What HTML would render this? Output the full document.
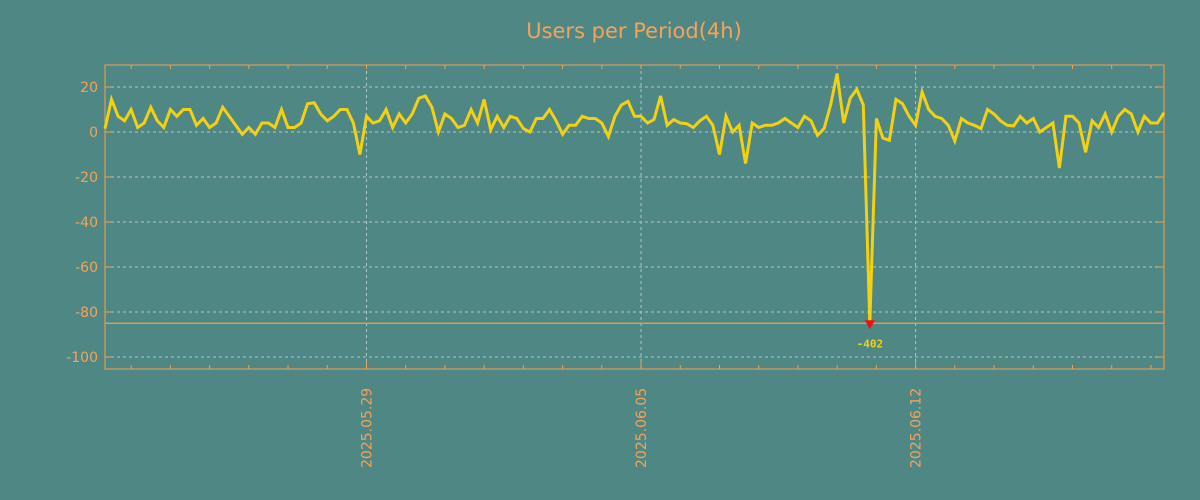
<!DOCTYPE html>
<html><head><meta charset="utf-8"><style>
html,body{margin:0;padding:0;background:#4f8785;}
svg{display:block;font-family:"DejaVu Sans","Liberation Sans",sans-serif;}
</style></head><body>
<svg id="chart" width="1200" height="500">
<rect width="1200" height="500" fill="#4f8785"/>
<text x="634" y="38" text-anchor="middle" fill="#f4a35a" font-size="21">Users per Period(4h)</text>
<g id="grid"></g><g id="axes"></g><g id="series"></g>
</svg>
<script>
const yTicks=[20,0,-20,-40,-60,-80,-100];
const dateLabels=["2025.05.29","2025.06.05","2025.06.12"];
const dateIndex=[40,82,124];
const users=[1.5,14.5,7,5,10,2,4,11,5,2,10,7,10,10,3,6,2,4,11,7,3,-1,2,-1,4,4,2,10,2,2,4,12.6,13,8,5,7,10,10,4,-10,7,4,5,10,2,8,4,8,15,16,11,0,8,6,2,
3,10,4,14.5,1,7,2,7,6,1.5,0,6,6,10,5,-1,3,3,7,6,6,4,-2,7,12,13.6,7,7,4,5.6,16,3,5.5,4,3.7,2,5,7,3,-10,7,0,3,-14,4,2,3,3,4,6,4,2,7,
5,-1.5,1.5,12,26,4,15,19,12,-402,6,-2.7,-3.7,14.5,12.6,7,3,17.8,10,7,6,3,-4,6,4,3,1.5,10,8,5,3,2.7,7,4,6,0,2,4,-16,7,7,4,-9,5,2,8,0,7,10,8,0,7,4,4,8.6];
const limitValue=-85;
const ns="http://www.w3.org/2000/svg";
const L=105,R=1164,T=65,B=369;
const step=(R-L)/(users.length-1);
const xs=i=>L+i*step;
const ys=v=>132-v*2.25;
function mk(tag,attrs,parent){const e=document.createElementNS(ns,tag);for(const k in attrs)e.setAttribute(k,attrs[k]);parent.appendChild(e);return e;}
const grid=document.getElementById('grid'),axes=document.getElementById('axes'),series=document.getElementById('series');
yTicks.forEach(v=>{
 const g=mk('line',{x1:L,x2:R,y1:ys(v),y2:ys(v),stroke:'#b9c4c0','stroke-dasharray':'3,3','stroke-width':1},grid);
 
 
 const t=mk('line',{x1:L,x2:L+6,y1:ys(v),y2:ys(v),stroke:'#f4a04a'},axes);
 
 
 const t2=mk('line',{x1:R-6,x2:R,y1:ys(v),y2:ys(v),stroke:'#f4a04a'},axes);
 
 
 const lb=mk('text',{x:98,y:ys(v)+5,'text-anchor':'end',fill:'#f4a35a','font-size':14},axes);
 lb.textContent=String(v);
 
 
});
for(let i=4;i<users.length;i+=6){
 const a=mk('line',{x1:xs(i),x2:xs(i),y1:T,y2:T+4,stroke:'#f4a04a'},axes);
 
 
 const b=mk('line',{x1:xs(i),x2:xs(i),y1:B-4,y2:B,stroke:'#f4a04a'},axes);
 
 
}
dateLabels.forEach((d,k)=>{
 const x=xs(dateIndex[k]);
 const g=mk('line',{x1:x,x2:x,y1:T,y2:B,stroke:'#b9c4c0','stroke-dasharray':'3,3'},grid);
 
 
 const tk=mk('line',{x1:x,x2:x,y1:B-8,y2:B,stroke:'#f4a04a'},axes);
 
 
 const t=mk('text',{x:0,y:0,transform:`translate(${x+5},468) rotate(-90)`,fill:'#f4a35a','font-size':14},axes);
 t.textContent=d;
 
 
});
const frame=mk('rect',{x:L,y:T,width:R-L,height:B-T,fill:'none',stroke:'#f4a04a','stroke-width':1},axes);


const lim=mk('line',{x1:L,x2:R,y1:ys(limitValue),y2:ys(limitValue),stroke:'#f4a04a','stroke-width':1.2},axes);


const pts=users.map((v,i)=>xs(i).toFixed(1)+','+ys(Math.max(v,limitValue)).toFixed(1)).join(' ');
const pl=mk('polyline',{points:pts,fill:'none',stroke:'#f2d013','stroke-width':3,'stroke-linejoin':'miter'},series);


users.forEach((v,i)=>{
 if(v<limitValue){
  const x=xs(i),y=ys(limitValue);
  const tri=mk('polygon',{points:`${x-5},${y-3} ${x+5},${y-3} ${x},${y+6}`,fill:'#ee1111'},series);
  
  
  const t=mk('text',{x:x,y:y+24,'text-anchor':'middle',fill:'#f2d013','font-size':11,'font-weight':'bold','font-family':'DejaVu Sans Mono, Liberation Mono, monospace'},series);
  t.textContent=String(v);
  
  
 }
});
</script>
</body></html>
